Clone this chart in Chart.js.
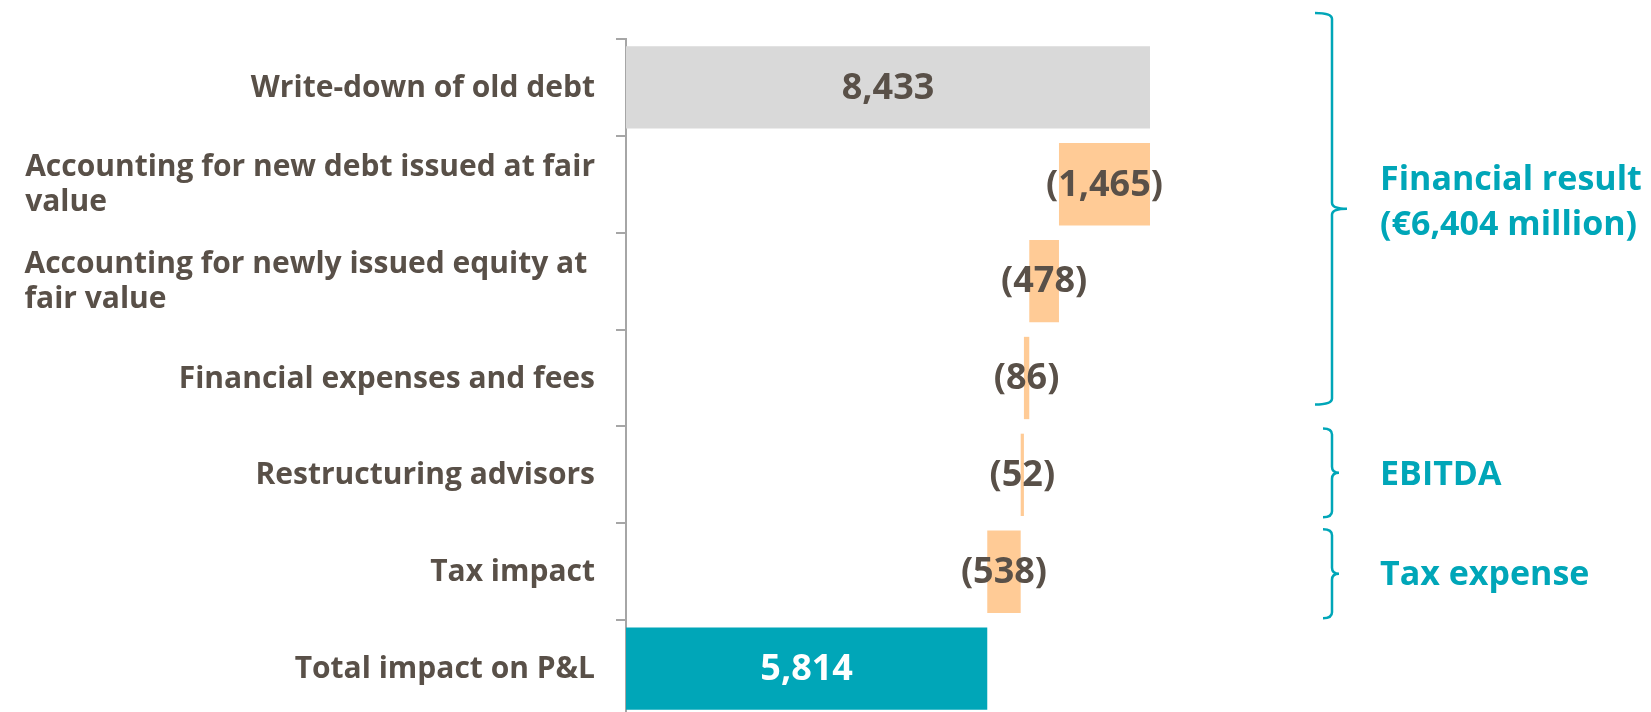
<!DOCTYPE html>
<html>
<head>
<meta charset="utf-8">
<script src="https://cdn.jsdelivr.net/npm/chart.js@4.4.1/dist/chart.umd.min.js"></script>
<style>
  html, body { margin: 0; padding: 0; background: #fff; overflow: hidden; }
  #wrap { width: 1651px; height: 720px; }
</style>
</head>
<body>
<div id="wrap"><canvas id="bridgeChart" width="1651" height="720"></canvas></div>
<script>
const categories = [
  "Write-down of old debt",
  ["Accounting for new debt issued at fair", "value"],
  ["Accounting for newly issued equity at ", "fair value"],
  "Financial expenses and fees",
  "Restructuring advisors",
  "Tax impact",
  "Total impact on P&L"
];
const values = [8433, -1465, -478, -86, -52, -538, 5814];
const barKinds = ["start", "step", "step", "step", "step", "step", "total"];
const valueLabels = ["8,433", "(1,465)", "(478)", "(86)", "(52)", "(538)", "5,814"];
const groups = [
  { from: 0, to: 3, lines: ["Financial result", "(€" + (values[0] + values[1] + values[2] + values[3]).toLocaleString("en-US") + " million)"] },
  { from: 4, to: 4, lines: ["EBITDA"] },
  { from: 5, to: 5, lines: ["Tax expense"] }
];

const TEXT = "#595048";
const TEAL = "#00a6b8";
const FONT = "'Open Sans', sans-serif";

// floating bars: running total for the steps
let running = 0;
const ranges = values.map((v, i) => {
  if (barKinds[i] === "total") return [0, v];
  const start = running;
  running += v;
  return barKinds[i] === "start" ? [0, v] : [running, start];
});
const barColors = barKinds.map((k) => k === "start" ? "#d9d9d9" : k === "total" ? TEAL : "#ffcb96");

// category labels: block right-aligned to the axis, lines left-aligned inside it
const categoryLabelPlugin = {
  id: "categoryLabels",
  afterDraw(chart) {
    const ctx = chart.ctx;
    const y = chart.scales.y;
    const right = y.right - 31;
    const lh = 35;
    ctx.save();
    ctx.font = "bold 30px " + FONT;
    ctx.fillStyle = TEXT;
    ctx.textBaseline = "middle";
    categories.forEach((c, i) => {
      const cy = y.getPixelForValue(i);
      const lines = Array.isArray(c) ? c : [c];
      const w = Math.max(...lines.map((t) => ctx.measureText(t).width));
      ctx.textAlign = "left";
      lines.forEach((t, k) => {
        ctx.fillText(t, right - w, cy + 1 + (k - (lines.length - 1) / 2) * lh);
      });
    });
    ctx.restore();
  }
};

const valueLabelPlugin = {
  id: "valueLabels",
  afterDatasetsDraw(chart) {
    const ctx = chart.ctx;
    const meta = chart.getDatasetMeta(0);
    ctx.save();
    ctx.font = "bold 36px " + FONT;
    ctx.textAlign = "center";
    ctx.textBaseline = "middle";
    meta.data.forEach((bar, i) => {
      ctx.fillStyle = barKinds[i] === "total" ? "#ffffff" : TEXT;
      ctx.fillText(valueLabels[i], (bar.x + bar.base) / 2, bar.y + 1);
    });
    ctx.restore();
  }
};

const bracketPlugin = {
  id: "brackets",
  afterDraw(chart) {
    const ctx = chart.ctx;
    const y = chart.scales.y;
    const band = y.getPixelForValue(1) - y.getPixelForValue(0);
    // tweaks so the braces sit like the original slide
    const shape = [
      { top: -26, bottom: -22, x0: 1315, x2: 1347, dy: -6 },
      { top: 2, bottom: -6, x0: 1323, x2: 1339, dy: 2 },
      { top: 6, bottom: -2, x0: 1323, x2: 1339, dy: 2 }
    ];
    const x1 = 1332;
    ctx.save();
    ctx.strokeStyle = TEAL;
    ctx.lineWidth = 2.5;
    ctx.fillStyle = TEAL;
    ctx.font = "bold 34px " + FONT;
    ctx.textAlign = "left";
    ctx.textBaseline = "middle";
    groups.forEach((g, i) => {
      const s = shape[i];
      const top = y.getPixelForValue(g.from) - band / 2 + s.top;
      const bottom = y.getPixelForValue(g.to) + band / 2 + s.bottom;
      const mid = (top + bottom) / 2;
      const r = 6;
      ctx.beginPath();
      ctx.moveTo(s.x0, top);
      ctx.quadraticCurveTo(x1, top, x1, top + r);
      ctx.lineTo(x1, mid - r);
      ctx.quadraticCurveTo(x1, mid, s.x2, mid);
      ctx.moveTo(s.x2, mid);
      ctx.quadraticCurveTo(x1, mid, x1, mid + r);
      ctx.lineTo(x1, bottom - r);
      ctx.quadraticCurveTo(x1, bottom, s.x0, bottom);
      ctx.stroke();
      const lh = 45;
      g.lines.forEach((t, k) => {
        ctx.fillText(t, 1380, mid + s.dy + (k - (g.lines.length - 1) / 2) * lh);
      });
    });
    ctx.restore();
  }
};

new Chart(document.getElementById("bridgeChart"), {
  type: "bar",
  data: {
    labels: categories,
    datasets: [{
      data: ranges,
      backgroundColor: barColors,
      borderWidth: 0,
      borderSkipped: false,
      categoryPercentage: 1,
      barPercentage: 0.85
    }]
  },
  options: {
    indexAxis: "y",
    responsive: false,
    animation: false,
    layout: { padding: { top: 39, bottom: 3, left: 0, right: 501 } },
    plugins: { legend: { display: false }, tooltip: { enabled: false } },
    scales: {
      x: { display: false, min: 0, max: values[0] },
      y: {
        afterFit(scale) { scale.width = 626; },
        border: { color: "#a6a6a6", width: 2 },
        grid: { drawOnChartArea: false, drawTicks: true, tickLength: 10, color: "#a6a6a6", lineWidth: 2, offset: true },
        ticks: { display: false }
      }
    }
  },
  plugins: [valueLabelPlugin, categoryLabelPlugin, bracketPlugin]
});
</script>
</body>
</html>
